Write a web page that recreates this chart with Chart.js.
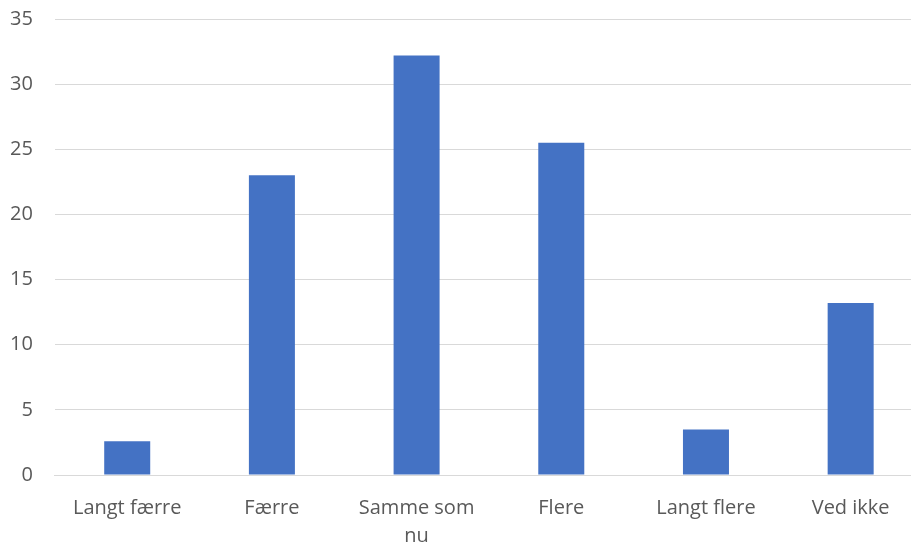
<!DOCTYPE html>
<html>
<head>
<meta charset="utf-8">
<script src="https://cdn.jsdelivr.net/npm/chart.js@4"></script>
<style>
  html, body { margin: 0; padding: 0; background: #ffffff; overflow: hidden; }
  #wrap { width: 911px; height: 542px; position: relative; overflow: hidden; }
</style>
</head>
<body>
<div id="wrap"><canvas id="chart" width="923" height="542"></canvas></div>
<script>
const categories = ['Langt færre', 'Færre', ['Samme som', 'nu'], 'Flere', 'Langt flere', 'Ved ikke'];
const values = [2.6, 23.0, 32.2, 25.5, 3.5, 13.2];
const yTicks = [0, 5, 10, 15, 20, 25, 30, 35];

const ctx = document.getElementById('chart').getContext('2d');
new Chart(ctx, {
    type: 'bar',
    data: {
        labels: categories,
        datasets: [{
            data: values,
            backgroundColor: '#4472C4',
            borderWidth: 0,
            barPercentage: 0.318,
            categoryPercentage: 1.0
        }]
    },
    options: {
        responsive: false,
        animation: false,
        layout: { padding: { left: -12, right: 0, top: 19, bottom: 0 } },
        plugins: { legend: { display: false }, tooltip: { enabled: false } },
        scales: {
            x: {
                grid: { display: false, drawTicks: false },
                border: { display: true, color: '#d9d9d9', width: 1 },
                afterFit: axis => { axis.paddingLeft = 0; axis.paddingRight = 0; axis.height = 67; },
                ticks: {
                    color: '#595959',
                    font: { family: 'Open Sans', size: 20, lineHeight: 1.4 },
                    maxRotation: 0,
                    autoSkip: false,
                    padding: 19
                }
            },
            y: {
                min: 0,
                max: 35,
                afterBuildTicks: axis => { axis.ticks = yTicks.map(v => ({ value: v })); },
                afterFit: axis => { axis.paddingTop = 0; axis.paddingBottom = 0; },
                grid: { color: '#d9d9d9', lineWidth: 1, drawTicks: false },
                border: { display: false },
                ticks: {
                    color: '#595959',
                    font: { family: 'Open Sans', size: 20 },
                    padding: 22
                }
            }
        }
    }
});
</script>
</body>
</html>
